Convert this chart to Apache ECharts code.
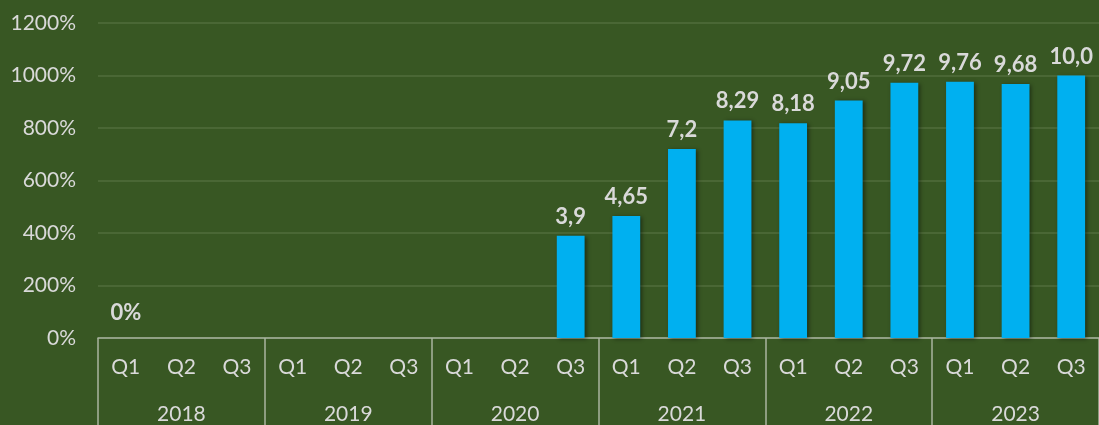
<!DOCTYPE html>
<html>
<head>
<meta charset="utf-8">
<script src="https://cdn.jsdelivr.net/npm/echarts@6/dist/echarts.min.js"></script>
<style>
html,body{margin:0;padding:0;background:#385723;}
#c{width:1099px;height:425px;}
</style>
</head>
<body>
<div id="c"></div>
<script>
var quarters = ["Q1","Q2","Q3","Q1","Q2","Q3","Q1","Q2","Q3","Q1","Q2","Q3","Q1","Q2","Q3","Q1","Q2","Q3"];
var years = ["2018","2019","2020","2021","2022","2023"];
var values = [0, null, null, null, null, null, null, null, 390, 465, 720, 829, 818, 905, 972, 976, 968, 1000];
var labels = ["0%", "", "", "", "", "", "", "", "3,9", "4,65", "7,2", "8,29", "8,18", "9,05", "9,72", "9,76", "9,68", "10,0"];
var yTicks = {min: 0, max: 1200, interval: 200};

var textColor = '#d9d9d9';
var sepColor = '#a9b5a0';
var font = 'Lato';

var chart = echarts.init(document.getElementById('c'), null, {renderer: 'canvas'});
chart.setOption({
  backgroundColor: '#385723',
  animation: false,
  grid: {left: 98, right: -7, top: 23, bottom: 86, containLabel: false},
  xAxis: [
    {
      type: 'category',
      data: quarters,
      position: 'bottom',
      axisLine: {show: true, lineStyle: {color: sepColor, width: 1.5}},
      axisTick: {show: false},
      axisLabel: {color: textColor, fontFamily: font, fontSize: 21, margin: 19, interval: 0}
    },
    {
      type: 'category',
      data: years,
      position: 'bottom',
      gridIndex: 0,
      axisLine: {show: false},
      axisTick: {show: true, interval: 0, length: 95, lineStyle: {color: sepColor, width: 1.5}},
      axisLabel: {color: textColor, fontFamily: font, fontSize: 21, margin: 66, interval: 0},
      splitLine: {show: false}
    }
  ],
  yAxis: {
    type: 'value',
    min: yTicks.min,
    max: yTicks.max,
    interval: yTicks.interval,
    axisLine: {show: false},
    axisTick: {show: false},
    axisLabel: {color: textColor, fontFamily: font, fontSize: 21, margin: 22, formatter: function(v){return v + '%';}},
    splitLine: {lineStyle: {color: '#506d3d', width: 1.5}}
  },
  series: [{
    type: 'bar',
    xAxisIndex: 0,
    data: values.map(function(v, i){
      return {value: v, label: {distance: i === 0 ? 14 : 8}};
    }),
    barWidth: '50%',
    itemStyle: {color: '#00b0f0', shadowColor: 'rgba(0,0,0,0.45)', shadowBlur: 4, shadowOffsetX: 2, shadowOffsetY: 1},
    label: {
      show: true,
      position: 'top',
      color: textColor,
      fontFamily: font,
      fontWeight: 'bold',
      fontSize: 22,
      formatter: function(p){return labels[p.dataIndex];}
    }
  }]
});
</script>
</body>
</html>
